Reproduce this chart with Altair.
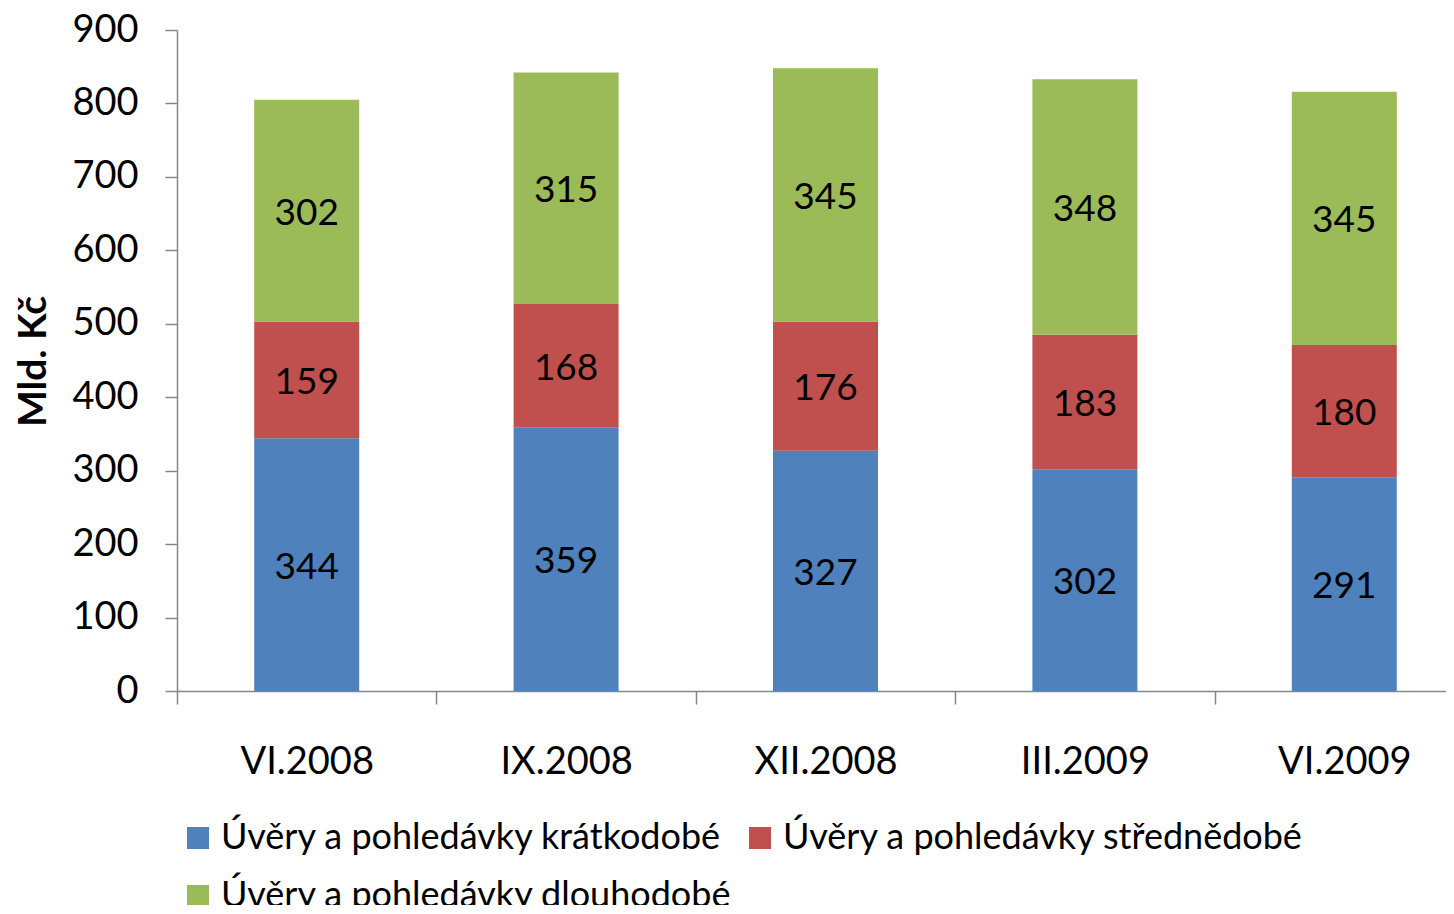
import altair as alt
import pandas as pd

categories = ["VI.2008", "IX.2008", "XII.2008", "III.2009", "VI.2009"]
series = ["Úvěry a pohledávky krátkodobé", "Úvěry a pohledávky střednědobé", "Úvěry a pohledávky dlouhodobé"]
short_term = [344, 359, 327, 302, 291]
medium_term = [159, 168, 176, 183, 180]
long_term = [302, 315, 345, 348, 345]
colors = ["#4F81BD", "#C0504D", "#9BBB59"]
y_ticks = [0, 100, 200, 300, 400, 500, 600, 700, 800, 900]

rows = []
for i, c in enumerate(categories):
    for j, (s, vals) in enumerate(zip(series, [short_term, medium_term, long_term])):
        rows.append({"date": c, "series": s, "ord": j, "value": vals[i]})
df = pd.DataFrame(rows)

FONT = "Lato"
AXIS_GRAY = "#868686"

base = alt.Chart(df).transform_stack(
    stack="value", groupby=["date"], as_=["y0", "y1"],
    sort=[alt.SortField(field="ord", order="ascending")]
).transform_calculate(mid="(datum.y0 + datum.y1) / 2")

x_scale = alt.Scale(domain=categories, range=[0, 1297], paddingInner=0, paddingOuter=0)
x_enc = alt.X(
    "date:N", sort=categories, scale=x_scale,
    axis=alt.Axis(title=None, labelAngle=0, tickBand="extent", tickSize=13,
                  labelPadding=39, labelFontSize=38, labelFont=FONT, labelColor="black",
                  domainColor=AXIS_GRAY, tickColor=AXIS_GRAY, domainWidth=1.5, tickWidth=1.5)
)
y_scale = alt.Scale(domain=[0, 900], nice=False)

bars = base.mark_bar(size=105).encode(
    x=x_enc,
    y=alt.Y("y0:Q", scale=y_scale,
            axis=alt.Axis(values=y_ticks, title="Mld. Kč", grid=False, tickSize=12,
                          labelPadding=27, labelFontSize=38, labelFont=FONT, labelColor="black",
                          domainColor=AXIS_GRAY, tickColor=AXIS_GRAY, domainWidth=1.5, tickWidth=1.5,
                          titleFont=FONT, titleFontSize=39, titleFontWeight="bold", titleColor="black",
                          titleAngle=270, titleX=-144, titleY=331, titleAlign="center",
                          titleBaseline="middle")),
    y2="y1:Q",
    color=alt.Color("series:N", scale=alt.Scale(domain=series, range=colors),
                    legend=alt.Legend(title=None, orient="none", legendX=3, legendY=790,
                                      columns=2, direction="horizontal", symbolType="square",
                                      symbolSize=484, symbolStrokeWidth=0, labelFontSize=36,
                                      labelFont=FONT, labelColor="black", labelLimit=1000,
                                      columnPadding=9, rowPadding=22, labelOffset=5))
)

labels = base.mark_text(font=FONT, fontSize=37, color="black", baseline="middle", dy=3).encode(
    x=alt.X("date:N", sort=categories, scale=x_scale),
    y=alt.Y("mid:Q", scale=y_scale),
    text="value:Q"
)

chart = alt.layer(bars, labels).properties(
    width=1269, height=661,
    autosize=alt.AutoSizeParams(type="none"),
    padding={"left": 169, "top": 22, "right": 0, "bottom": 214}
).configure_view(stroke=None)

chart.save("out.html", embed_options={"renderer": "svg", "actions": False})
